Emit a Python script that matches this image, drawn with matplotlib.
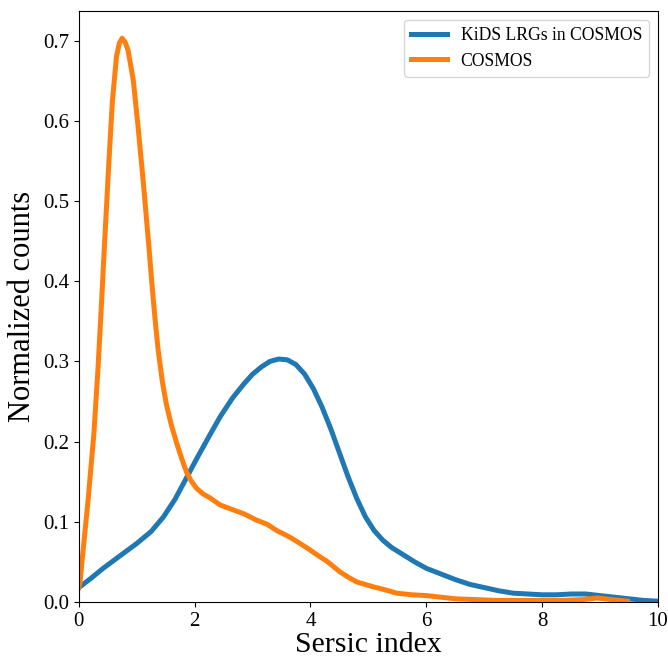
import matplotlib
matplotlib.use("Agg")
import matplotlib.pyplot as plt

# KiDS LRGs in COSMOS
kids_x = [0.0, 0.2, 0.42, 0.7, 1.0, 1.25, 1.46, 1.66, 1.86, 2.06, 2.26, 2.44, 2.65,
          2.85, 3.0, 3.15, 3.3, 3.45, 3.6, 3.75, 3.9, 4.05, 4.2, 4.35, 4.5, 4.65, 4.8,
          4.95, 5.1, 5.25, 5.4, 5.6, 5.8, 6.0, 6.25, 6.5, 6.75, 7.0, 7.25, 7.5, 7.75,
          8.0, 8.25, 8.5, 8.75, 9.0, 9.25, 9.5, 9.75, 10.0]
kids_y = [0.018, 0.029, 0.042, 0.057, 0.073, 0.088, 0.106, 0.128, 0.155, 0.182, 0.208,
          0.231, 0.254, 0.272, 0.284, 0.293, 0.300, 0.303, 0.302, 0.296, 0.284, 0.266,
          0.243, 0.216, 0.186, 0.156, 0.129, 0.106, 0.089, 0.077, 0.068, 0.059, 0.050,
          0.042, 0.035, 0.028, 0.022, 0.018, 0.014, 0.011, 0.010, 0.009, 0.009, 0.010,
          0.010, 0.008, 0.006, 0.004, 0.002, 0.001]

# COSMOS
cosmos_x = [0.0, 0.02, 0.075, 0.16, 0.26, 0.33, 0.39, 0.45, 0.52, 0.58, 0.65, 0.7,
            0.748, 0.8, 0.85, 0.94, 1.02, 1.11, 1.21, 1.27, 1.32, 1.37, 1.44, 1.51,
            1.6, 1.69, 1.78, 1.86, 1.94, 2.03, 2.14, 2.26, 2.44, 2.66, 2.85, 3.07,
            3.25, 3.42, 3.64, 3.82, 3.99, 4.15, 4.3, 4.5, 4.65, 4.8, 5.08, 5.3, 5.49,
            5.75, 6.0, 6.5, 7.2, 7.8, 8.35, 8.7, 8.95, 9.2, 9.47]
cosmos_y = [0.018, 0.024, 0.065, 0.127, 0.210, 0.290, 0.370, 0.455, 0.550, 0.625,
            0.680, 0.697, 0.703, 0.698, 0.688, 0.651, 0.595, 0.526, 0.443, 0.390,
            0.350, 0.314, 0.276, 0.247, 0.220, 0.198, 0.178, 0.162, 0.151, 0.142,
            0.135, 0.130, 0.121, 0.115, 0.110, 0.102, 0.097, 0.089, 0.081, 0.073,
            0.065, 0.057, 0.050, 0.038, 0.031, 0.025, 0.019, 0.015, 0.011, 0.009,
            0.008, 0.004, 0.002, 0.002, 0.002, 0.003, 0.005, 0.003, 0.001]

plt.rcParams["font.family"] = ["Liberation Serif", "DejaVu Serif"]
plt.rcParams["mathtext.fontset"] = "stix"

fig = plt.figure(figsize=(6.68, 6.57), dpi=100)
ax = fig.add_axes([0.118, 0.0837, 0.867, 0.8996])

ax.plot(kids_x, kids_y, color="#1f77b4", lw=3.6, label="KiDS LRGs in COSMOS")
ax.plot(cosmos_x, cosmos_y, color="#ff7f0e", lw=3.6, label="COSMOS")

ax.set_xlim(0, 10)
ax.set_ylim(0, 0.737)
ax.set_xticks([0, 2, 4, 6, 8, 10])
ax.set_yticks([0.0, 0.1, 0.2, 0.3, 0.4, 0.5, 0.6, 0.7])
ax.tick_params(labelsize=15)
ax.set_xlabel("Sersic index", fontsize=21.5, labelpad=1)
ax.set_ylabel("Normalized counts", fontsize=22)
ax.legend(loc="upper right", fontsize=12.7)

fig.savefig("out.png", dpi=100)
